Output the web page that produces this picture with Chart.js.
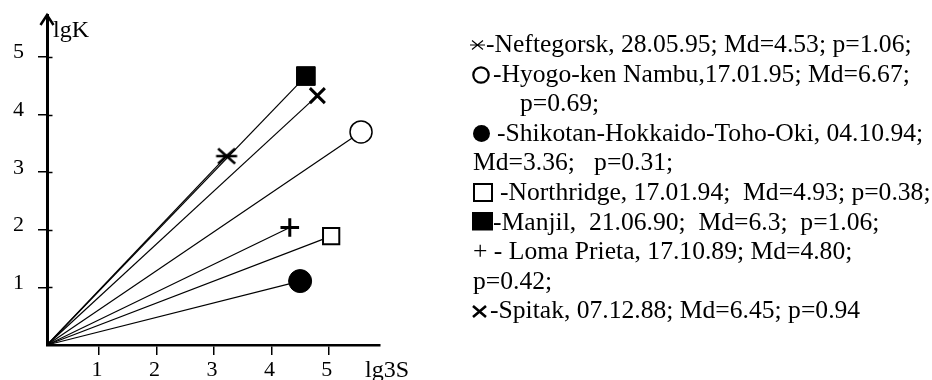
<!DOCTYPE html>
<html>
<head>
<meta charset="utf-8">
<script src="https://cdn.jsdelivr.net/npm/chart.js@4.4.1/dist/chart.umd.min.js"></script>
<style>
html, body { margin: 0; padding: 0; background: #fff; }
body { width: 932px; height: 380px; position: relative; overflow: hidden; font-family: "Liberation Serif", "Times New Roman", serif; color: #000; }
#wrap { position: absolute; left: 0; top: 0; width: 420px; height: 380px; }
#legend { position: absolute; left: 0; top: 29px; width: 932px; }
.ln { position: relative; height: 29.6px; font-size: 25.6px; line-height: 29.6px; white-space: pre; }
.ln span, .ln svg { position: absolute; top: 0; }
</style>
</head>
<body>
<div id="wrap"><canvas id="quakeChart"></canvas></div>

<div id="legend">
  <div class="ln">
    <svg style="left:470px;top:11px" width="15" height="10"><path d="M0 5H15M2 0.5L13 9.5M13 0.5L2 9.5" stroke="#000" stroke-width="1.1" fill="none"/></svg>
    <span style="left:486px">-Neftegorsk, 28.05.95; Md=4.53; p=1.06;</span>
  </div>
  <div class="ln">
    <svg style="left:472px;top:7px" width="18" height="18"><circle cx="9" cy="9" r="7.7" stroke="#000" stroke-width="2.2" fill="none"/></svg>
    <span style="left:493px">-Hyogo-ken Nambu,17.01.95; Md=6.67;</span>
  </div>
  <div class="ln">
    <span style="left:520px">p=0.69;</span>
  </div>
  <div class="ln">
    <svg style="left:473px;top:7.5px" width="17" height="17"><circle cx="8.5" cy="8.5" r="8.5" fill="#000"/></svg>
    <span style="left:497px">-Shikotan-Hokkaido-Toho-Oki, 04.10.94;</span>
  </div>
  <div class="ln">
    <span style="left:473px">Md=3.36;   p=0.31;</span>
  </div>
  <div class="ln">
    <svg style="left:473px;top:6.5px" width="20" height="19"><rect x="1" y="1" width="18" height="17" stroke="#000" stroke-width="2" fill="none"/></svg>
    <span style="left:500px">-Northridge, 17.01.94;  Md=4.93; p=0.38;</span>
  </div>
  <div class="ln">
    <svg style="left:472px;top:5px" width="21" height="19"><rect x="0" y="0" width="21" height="18.5" fill="#000"/></svg>
    <span style="left:493px">-Manjil,  21.06.90;  Md=6.3;  p=1.06;</span>
  </div>
  <div class="ln">
    <span style="left:473px">+ - Loma Prieta, 17.10.89; Md=4.80;</span>
  </div>
  <div class="ln">
    <span style="left:473px">p=0.42;</span>
  </div>
  <div class="ln">
    <svg style="left:472px;top:9.5px" width="15" height="13"><path d="M1 1L14 12M14 1L1 12" stroke="#000" stroke-width="2.6" fill="none"/></svg>
    <span style="left:490px">-Spitak, 07.12.88; Md=6.45; p=0.94</span>
  </div>
</div>

<script>
// earthquakes, in legend order
const events = ['Neftegorsk', 'Hyogo-ken Nambu', 'Shikotan-Hokkaido-Toho-Oki', 'Northridge', 'Manjil', 'Loma Prieta', 'Spitak'];
const lg3S = [3.22, 5.56, 4.50, 5.04, 4.60, 4.32, 4.80];
const lgK  = [3.28, 3.70, 1.11, 1.89, 4.67, 2.04, 4.33];

// all lines start where the axes cross
const axisCross = [0.095, 0];

const xTicks = [1, 2, 3, 4, 5];
const yTicks = [1, 2, 3, 4, 5];
const xTickLabels = ['1', '2', '3', '4', '5'];
const yTickLabels = ['1', '2', '3', '4', '5'];
const xTitle = 'lg3S';
const yTitle = 'lgK';

// six armed asterisk, used for Neftegorsk
function asterisk() {
    const c = document.createElement('canvas');
    c.width = 24;
    c.height = 18;
    const g = c.getContext('2d');
    g.strokeStyle = '#000';
    g.lineWidth = 2.4;
    g.beginPath();
    g.moveTo(1.5, 9); g.lineTo(22.5, 9);
    g.moveTo(3.5, 1.5); g.lineTo(20.5, 16.5);
    g.moveTo(20.5, 1.5); g.lineTo(3.5, 16.5);
    g.stroke();
    return c;
}

const markers = [
    { style: asterisk(), radius: 10, fill: '#000', width: 1 },
    { style: 'circle', radius: 11, fill: '#fff', width: 1.5 },
    { style: 'circle', radius: 11.5, fill: '#000', width: 1 },
    { style: 'rect', radius: 11.5, fill: '#fff', width: 2 },
    { style: 'rect', radius: 13.2, fill: '#000', width: 1 },
    { style: 'cross', radius: 9.3, fill: '#000', width: 3 },
    { style: 'crossRot', radius: 10.6, fill: '#000', width: 3 }
];

const datasets = events.map((name, i) => ({
    label: name,
    data: [{ x: axisCross[0], y: axisCross[1] }, { x: lg3S[i], y: lgK[i] }],
    showLine: true,
    borderColor: '#000',
    borderWidth: 1.2,
    pointRadius: [0, markers[i].radius],
    pointStyle: markers[i].style,
    pointBackgroundColor: markers[i].fill,
    pointBorderColor: '#000',
    pointBorderWidth: markers[i].width,
    clip: false
}));

const tickFont = { family: 'Liberation Serif', size: 22 };

// no automatic room for the end labels, the frame is fixed
function noPad(s) {
    s.paddingTop = 0;
    s.paddingBottom = 0;
    s.paddingLeft = 0;
    s.paddingRight = 0;
}

const axisExtras = {
    id: 'axisExtras',
    afterDraw(chart) {
        const { ctx, chartArea: a, scales: { y } } = chart;
        ctx.save();
        ctx.strokeStyle = '#000';
        // arrow head on lgK
        ctx.lineWidth = 2.5;
        ctx.beginPath();
        ctx.moveTo(a.left - 6.5, a.top + 10);
        ctx.lineTo(a.left, a.top);
        ctx.lineTo(a.left + 6.5, a.top + 10);
        ctx.stroke();
        // y ticks stick out on the inner side too
        ctx.lineWidth = 1.5;
        yTicks.forEach(v => {
            const py = Math.round(y.getPixelForValue(v)) + 0.5;
            ctx.beginPath();
            ctx.moveTo(a.left, py);
            ctx.lineTo(a.left + 5.5, py);
            ctx.stroke();
        });
        ctx.fillStyle = '#000';
        ctx.font = '24px "Liberation Serif"';
        ctx.textBaseline = 'alphabetic';
        ctx.fillText(yTitle, a.left + 6, 37);
        ctx.fillText(xTitle, 365, 377);
        ctx.restore();
    }
};

const chart = new Chart(document.getElementById('quakeChart'), {
    type: 'scatter',
    data: { datasets: datasets },
    options: {
        responsive: true,
        maintainAspectRatio: false,
        animation: false,
        layout: { padding: { left: 0, top: 15, right: 40, bottom: 0 } },
        plugins: {
            legend: { display: false },
            tooltip: { enabled: false }
        },
        scales: {
            x: {
                type: 'linear',
                min: axisCross[0],
                max: 5.89,
                afterBuildTicks: s => { s.ticks = xTicks.map(v => ({ value: v })); },
                afterFit: s => { s.height = 35; noPad(s); },
                border: { display: true, color: '#000', width: 2.5 },
                grid: { drawOnChartArea: false, drawTicks: true, tickLength: 10, color: '#000', lineWidth: 1.5 },
                ticks: {
                    font: tickFont, color: '#000', padding: 2, labelOffset: -2, maxRotation: 0,
                    callback: (v, i) => xTickLabels[i]
                }
            },
            y: {
                type: 'linear',
                min: axisCross[1],
                max: 5.73,
                afterBuildTicks: s => { s.ticks = yTicks.map(v => ({ value: v })); },
                afterFit: s => { s.width = 47; noPad(s); },
                border: { display: true, color: '#000', width: 3 },
                grid: { drawOnChartArea: false, drawTicks: true, tickLength: 9, color: '#000', lineWidth: 1.5 },
                ticks: {
                    font: tickFont, color: '#000', padding: 14, labelOffset: -4.5,
                    callback: (v, i) => yTickLabels[i]
                }
            }
        }
    },
    plugins: [axisExtras]
});
</script>
</body>
</html>
